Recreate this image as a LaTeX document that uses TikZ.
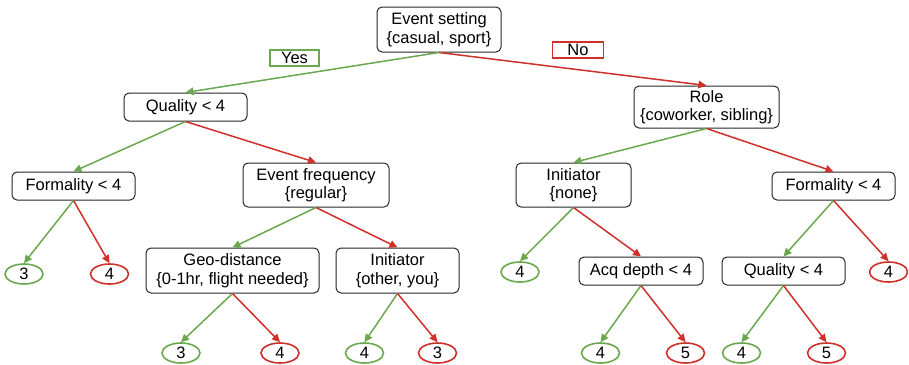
\documentclass[tikz,border=0pt]{standalone}
\usepackage{fontspec}
\setmainfont{Liberation Sans}
\usetikzlibrary{arrows.meta,shapes.geometric}

\definecolor{yesgreen}{HTML}{6AA84F}
\definecolor{nored}{HTML}{D0302A}

\tikzset{
    txt/.style={font=\fontsize{16.5}{18.5}\selectfont},
    split/.style={txt, draw=black!85, rounded corners=5pt, line width=1pt, align=center,
        minimum width=123pt, minimum height=28pt, inner sep=1pt},
    leaf/.style={txt, ellipse, line width=1.6pt, minimum width=38pt, minimum height=20pt, inner sep=0pt},
    leafyes/.style={leaf, draw=yesgreen},
    leafno/.style={leaf, draw=nored},
    lab/.style={txt, line width=1.6pt, minimum height=16pt, inner sep=0pt},
    yes/.style={draw=yesgreen, line width=1.5pt, -{Triangle[length=8pt,width=7.5pt]}},
    no/.style={draw=nored, line width=1.5pt, -{Triangle[length=8pt,width=7.5pt]}}
}

\begin{document}
\begin{tikzpicture}[x=1pt,y=-1pt]
        \useasboundingbox (0,0) rectangle (909,364);
        % Split nodes
        \node[split, minimum width=124pt, minimum height=45pt] (root) at (439,29.5) {Event setting\\\{casual, sport\}};
        \node[split] (qual) at (185.5,107) {Quality < 4};
        \node[split, minimum width=145pt, minimum height=42pt] (role) at (706.5,107) {Role\\\{coworker, sibling\}};
        \node[split] (form) at (73.5,186) {Formality < 4};
        \node[split, minimum width=146pt, minimum height=44pt] (freq) at (316,185) {Event frequency\\\{regular\}};
        \node[split, minimum width=115pt, minimum height=44pt] (initn) at (573.5,185) {Initiator\\\{none\}};
        \node[split] (formr) at (833.5,186) {Formality < 4};
        \node[split, minimum width=173pt, minimum height=45pt] (geo) at (232.5,270.5) {Geo-distance\\\{0-1hr, flight needed\}};
        \node[split, minimum height=45pt] (inito) at (397.5,270.5) {Initiator\\\{other, you\}};
        \node[split, minimum width=124pt] (acq) at (641,271) {Acq depth < 4};
        \node[split] (qualr) at (783.5,271) {Quality < 4};
        % Leaves
        \node[leafyes] (fa) at (24,274) {3};
        \node[leafno] (fb) at (109.5,274) {4};
        \node[leafyes] (ia) at (520,272) {4};
        \node[leafno] (rb) at (888.5,272) {4};
        \node[leafyes] (ga) at (181,353) {3};
        \node[leafno] (gb) at (280,353) {4};
        \node[leafyes] (oa) at (364.5,353) {4};
        \node[leafno] (ob) at (437.5,353) {3};
        \node[leafyes] (aa) at (600.5,353) {4};
        \node[leafno] (ab) at (685.5,353) {5};
        \node[leafyes] (qa) at (741.5,353) {4};
        \node[leafno] (qb) at (826.5,353) {5};
        % Branch labels
        \node[lab, draw=yesgreen, minimum width=49pt] (yeslab) at (294.5,58) {Yes};
        \node[lab, draw=nored, minimum width=51pt] (nolab) at (578,50) {No};
        % Branches
        \foreach \a/\b in {root/qual, qual/form, form/fa, freq/geo, geo/ga, inito/oa,
                           role/initn, initn/ia, acq/aa, formr/qualr, qualr/qa}
            \draw[yes] (\a.south) -- (\b.north);
        \foreach \a/\b in {root/role, qual/freq, form/fb, freq/inito, geo/gb, inito/ob,
                           role/formr, initn/acq, acq/ab, formr/rb, qualr/qb}
            \draw[no] (\a.south) -- (\b.north);
\end{tikzpicture}
\end{document}
